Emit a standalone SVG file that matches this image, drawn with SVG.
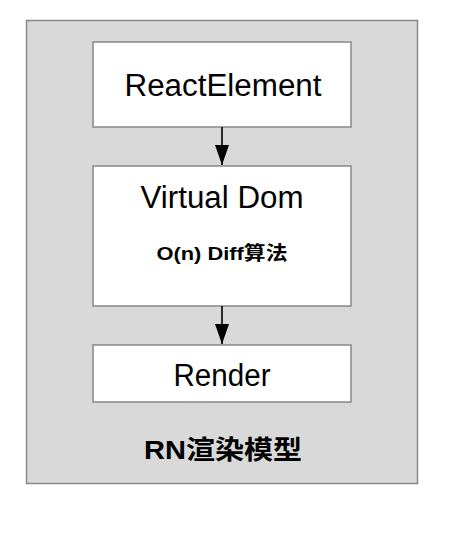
<svg xmlns="http://www.w3.org/2000/svg" width="462" height="534" viewBox="0 0 462 534">
<style>
.box{fill:#fff;stroke:#888;stroke-width:1.5}
.t{font-family:"Liberation Sans",Arial,sans-serif;font-size:31px;fill:#000;text-anchor:middle}
.b{font-family:"Liberation Sans","Noto Sans CJK SC",sans-serif;font-weight:bold;fill:#000;text-anchor:middle}
.c{stroke:#000;stroke-width:1.6;fill:none}
</style>
<defs>
<marker id="ah" markerUnits="userSpaceOnUse" markerWidth="20" markerHeight="14" refX="20" refY="7" orient="auto" viewBox="0 0 20 14">
<path d="M0,0 L20,7 L0,14 Z" fill="#000"/>
</marker>
</defs>
<g id="container">
<rect x="26.5" y="20.5" width="391" height="463" fill="#d9d9d9" stroke="#888" stroke-width="1.5"/>
<text class="b" x="223" y="459" font-size="26" textLength="158" lengthAdjust="spacingAndGlyphs">RN渲染模型</text>
</g>
<g id="reactelement">
<rect class="box" x="93" y="42" width="258" height="85"/>
<text class="t" x="223" y="96" textLength="197" lengthAdjust="spacingAndGlyphs">ReactElement</text>
</g>
<g id="virtualdom">
<rect class="box" x="93" y="166" width="258" height="140"/>
<text class="t" x="222" y="208" textLength="163" lengthAdjust="spacingAndGlyphs">Virtual Dom</text>
<text class="b" x="222" y="260" font-size="19" textLength="131" lengthAdjust="spacingAndGlyphs">O(n) Diff算法</text>
</g>
<g id="render">
<rect class="box" x="93" y="345" width="258" height="57"/>
<text class="t" x="222" y="386" textLength="97" lengthAdjust="spacingAndGlyphs">Render</text>
</g>
<g id="connectors">
<line class="c" x1="222" y1="127" x2="222" y2="165" marker-end="url(#ah)"/>
<line class="c" x1="222" y1="306" x2="222" y2="344" marker-end="url(#ah)"/>
</g>
</svg>
